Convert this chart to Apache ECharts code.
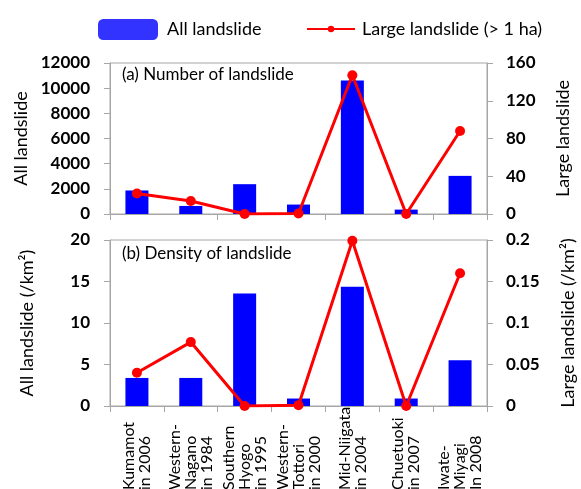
<!DOCTYPE html>
<html>
<head>
<meta charset="utf-8">
<script src="https://cdn.jsdelivr.net/npm/echarts@6/dist/echarts.min.js"></script>
<style>html,body{margin:0;padding:0;background:#fff}#c{width:581px;height:489px}</style>
</head>
<body>
<div id="c"></div>
<script>
const categories = [
  ['Kumamot', 'in 2006'],
  ['Western-', 'Nagano', 'in 1984'],
  ['Southern', 'Hyogo', 'in 1995'],
  ['Western-', 'Tottori', 'in 2000'],
  ['Mid-Niigata', 'in 2004'],
  ['Chuetuoki', 'in 2007'],
  ['Iwate-', 'Miyagi', 'In 2008']
];
const countAll = [1870, 640, 2370, 750, 10610, 350, 3030];
const countLarge = [21.7, 13.8, 0, 0.5, 147, 0, 88];
const densityAll = [3.38, 3.38, 13.55, 0.9, 14.37, 0.9, 5.52];
const densityLarge = [0.04, 0.077, 0, 0.001, 0.199, 0, 0.16];
const countAllTicks = {min: 0, max: 12000, interval: 2000};
const countLargeTicks = {min: 0, max: 160, interval: 40};
const densityAllTicks = {min: 0, max: 20, interval: 5};
const densityLargeTicks = {min: 0, max: 0.2, interval: 0.05};

const FONT = 'Lato';
const GRAY = '#a6a6a6';
const BLUE = '#0000ff';
const RED = '#ff0000';
const catNames = categories.map(c => c.join('\n'));

const chart = echarts.init(document.getElementById('c'), null, {renderer: 'canvas'});

function yAx(gridIndex, ticks, position, name, nameGap) {
  return {
    type: 'value', gridIndex, position, min: ticks.min, max: ticks.max, interval: ticks.interval,
    name, nameLocation: 'middle', nameGap, nameRotate: 90,
    nameTextStyle: {fontFamily: FONT, fontSize: 18, color: '#000'},
    axisLine: {show: true, lineStyle: {color: GRAY, width: 1}},
    axisTick: {show: true, length: 6, lineStyle: {color: GRAY}},
    splitLine: {show: false},
    axisLabel: {fontFamily: FONT, fontSize: 17, fontWeight: 'bold', color: '#000',
      margin: position === 'left' ? 20 : 19,
      formatter: v => String(Math.round(v * 1000) / 1000)}
  };
}
function xAx(gridIndex, showLabel) {
  return {
    type: 'category', gridIndex, data: catNames,
    axisLine: {show: true, lineStyle: {color: GRAY, width: 1}},
    axisTick: {show: true, length: 6, lineStyle: {color: GRAY}},
    splitLine: {show: false},
    axisLabel: showLabel ? {
      show: true, interval: 0, rotate: 90, margin: 4, width: 80,
      fontFamily: FONT, fontSize: 16, color: '#000', lineHeight: 16,
      formatter: v => v.split('\n').map(s => '{a|' + s + '}').join('\n'),
      rich: {a: {align: 'left', fontFamily: FONT, fontSize: 16, lineHeight: 16, color: '#000'}}
    } : {show: false}
  };
}

chart.setOption({
  animation: false,
  backgroundColor: '#fff',
  legend: [
    {data: ['All landslide'], left: 93, top: 14, itemWidth: 60, itemHeight: 21, itemGap: 0,
      itemStyle: {color: '#3333ff'},
      textStyle: {fontFamily: FONT, fontSize: 18, color: '#000', padding: [0, 0, 0, 4]}},
    {data: ['Large landslide (> 1 ha)'], left: 301, top: 15, itemWidth: 48, itemHeight: 8, itemGap: 0,
      textStyle: {fontFamily: FONT, fontSize: 18, color: '#000', padding: [0, 0, 0, 2]}}
  ],
  title: [
    {text: '(a) Number of landslide', left: 122, top: 66, padding: 0,
      textStyle: {fontFamily: FONT, fontSize: 17, fontWeight: 'normal', color: '#000'}},
    {text: '(b) Density of landslide', left: 122, top: 245, padding: 0,
      textStyle: {fontFamily: FONT, fontSize: 17, fontWeight: 'normal', color: '#000'}}
  ],
  grid: [
    {left: 110, right: 94, top: 63, height: 151, show: true, borderColor: GRAY, borderWidth: 1,
      outerBoundsMode: 'none', containLabel: false},
    {left: 110, right: 94, top: 240, height: 166, show: true, borderColor: GRAY, borderWidth: 1,
      outerBoundsMode: 'none', containLabel: false}
  ],
  xAxis: [xAx(0, false), xAx(1, true)],
  yAxis: [
    yAx(0, countAllTicks, 'left', 'All landslide', 80),
    yAx(0, countLargeTicks, 'right', 'Large landslide', 67),
    yAx(1, densityAllTicks, 'left', 'All landslide (/km²)', 74),
    yAx(1, densityLargeTicks, 'right', 'Large landslide (/km²)', 72)
  ],
  series: [
    {name: 'All landslide', type: 'bar', xAxisIndex: 0, yAxisIndex: 0, data: countAll, barWidth: 23,
      itemStyle: {color: BLUE}},
    {name: 'Large landslide (> 1 ha)', type: 'line', xAxisIndex: 0, yAxisIndex: 1, data: countLarge,
      symbol: 'circle', symbolSize: 10, lineStyle: {color: RED, width: 3}, itemStyle: {color: RED}},
    {name: 'All landslide', type: 'bar', xAxisIndex: 1, yAxisIndex: 2, data: densityAll, barWidth: 23,
      itemStyle: {color: BLUE}},
    {name: 'Large landslide (> 1 ha)', type: 'line', xAxisIndex: 1, yAxisIndex: 3, data: densityLarge,
      symbol: 'circle', symbolSize: 10, lineStyle: {color: RED, width: 3}, itemStyle: {color: RED}}
  ]
});
</script>
</body>
</html>
